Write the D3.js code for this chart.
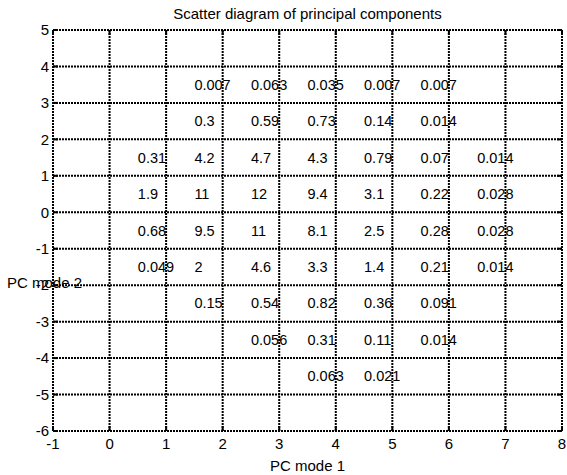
<!DOCTYPE html>
<html>
<head>
<meta charset="utf-8">
<script src="https://cdn.jsdelivr.net/npm/d3@7"></script>
<style>
  body { margin: 0; background: #fff; }
  text { font-family: "Liberation Sans", Arial, sans-serif; fill: #000; }
</style>
</head>
<body>
<script>
const WIDTH = 567;
const HEIGHT = 475;

// axis ticks
const xTicks = [-1, 0, 1, 2, 3, 4, 5, 6, 7, 8];
const yTicks = [-6, -5, -4, -3, -2, -1, 0, 1, 2, 3, 4, 5];

// cell centres and values (rows from top)
const rowY = [3.5, 2.5, 1.5, 0.5, -0.5, -1.5, -2.5, -3.5, -4.5];
const rowX = [
    [1.5, 2.5, 3.5, 4.5, 5.5],
    [1.5, 2.5, 3.5, 4.5, 5.5],
    [0.5, 1.5, 2.5, 3.5, 4.5, 5.5, 6.5],
    [0.5, 1.5, 2.5, 3.5, 4.5, 5.5, 6.5],
    [0.5, 1.5, 2.5, 3.5, 4.5, 5.5, 6.5],
    [0.5, 1.5, 2.5, 3.5, 4.5, 5.5, 6.5],
    [1.5, 2.5, 3.5, 4.5, 5.5],
    [2.5, 3.5, 4.5, 5.5],
    [3.5, 4.5]
];
const rowLabels = [
    ["0.007", "0.063", "0.035", "0.007", "0.007"],
    ["0.3", "0.59", "0.73", "0.14", "0.014"],
    ["0.31", "4.2", "4.7", "4.3", "0.79", "0.07", "0.014"],
    ["1.9", "11", "12", "9.4", "3.1", "0.22", "0.028"],
    ["0.68", "9.5", "11", "8.1", "2.5", "0.28", "0.028"],
    ["0.049", "2", "4.6", "3.3", "1.4", "0.21", "0.014"],
    ["0.15", "0.54", "0.82", "0.36", "0.091"],
    ["0.056", "0.31", "0.11", "0.014"],
    ["0.063", "0.021"]
];

const margin = { left: 53, right: 5, top: 30, bottom: 44 };

var svg = d3.select("body").append("svg")
    .attr("width", WIDTH)
    .attr("height", HEIGHT);

var x = d3.scaleLinear().domain([-1, 8]).range([margin.left, WIDTH - margin.right]);
var y = d3.scaleLinear().domain([-6, 5]).range([HEIGHT - margin.bottom, margin.top]);

// flatten the cells
var cells = [];
rowY.forEach(function (yy, i) {
    rowX[i].forEach(function (xx, j) {
        cells.push({ x: xx, y: yy, label: rowLabels[i][j] });
    });
});

// cell texts (drawn under the grid like in the original)
svg.append("g").selectAll("text")
    .data(cells)
    .enter().append("text")
    .attr("x", d => x(d.x))
    .attr("y", d => y(d.y))
    .attr("dy", "0.35em")
    .attr("font-size", 14.5)
    .text(d => d.label);

// dotted grid, includes the frame
var grid = svg.append("g")
    .attr("stroke", "#000")
    .attr("stroke-width", 2)
    .attr("stroke-dasharray", "2,1");
grid.selectAll(".vg").data(xTicks).enter().append("line")
    .attr("x1", d => x(d)).attr("x2", d => x(d))
    .attr("y1", y(5)).attr("y2", y(-6));
grid.selectAll(".hg").data(yTicks).enter().append("line")
    .attr("y1", d => y(d)).attr("y2", d => y(d))
    .attr("x1", x(-1)).attr("x2", x(8));

// inner ticks on all sides
var tl = 5;
var ticks = svg.append("g").attr("stroke", "#000").attr("stroke-width", 2);
xTicks.forEach(function (t) {
    ticks.append("line").attr("x1", x(t)).attr("x2", x(t)).attr("y1", y(-6)).attr("y2", y(-6) - tl);
    ticks.append("line").attr("x1", x(t)).attr("x2", x(t)).attr("y1", y(5)).attr("y2", y(5) + tl);
});
yTicks.forEach(function (t) {
    ticks.append("line").attr("y1", y(t)).attr("y2", y(t)).attr("x1", x(-1)).attr("x2", x(-1) + tl);
    ticks.append("line").attr("y1", y(t)).attr("y2", y(t)).attr("x1", x(8)).attr("x2", x(8) - tl);
});

// tick labels
svg.append("g").selectAll("text")
    .data(xTicks)
    .enter().append("text")
    .attr("x", d => x(d))
    .attr("y", y(-6) + 13)
    .attr("dy", "0.35em")
    .attr("text-anchor", "middle")
    .attr("font-size", 15)
    .text(d => d);
svg.append("g").selectAll("text")
    .data(yTicks)
    .enter().append("text")
    .attr("x", x(-1) - 4)
    .attr("y", d => y(d))
    .attr("dy", "0.35em")
    .attr("text-anchor", "end")
    .attr("font-size", 15)
    .text(d => d);

// title and axis labels
svg.append("text")
    .attr("x", (x(-1) + x(8)) / 2)
    .attr("y", 14)
    .attr("dy", "0.35em")
    .attr("text-anchor", "middle")
    .attr("font-size", 15)
    .text("Scatter diagram of principal components");
svg.append("text")
    .attr("x", (x(-1) + x(8)) / 2)
    .attr("y", 466)
    .attr("dy", "0.35em")
    .attr("text-anchor", "middle")
    .attr("font-size", 15)
    .text("PC mode 1");
svg.append("text")
    .attr("x", 7)
    .attr("y", 283)
    .attr("dy", "0.35em")
    .attr("font-size", 15)
    .text("PC mode 2");
</script>
</body>
</html>
